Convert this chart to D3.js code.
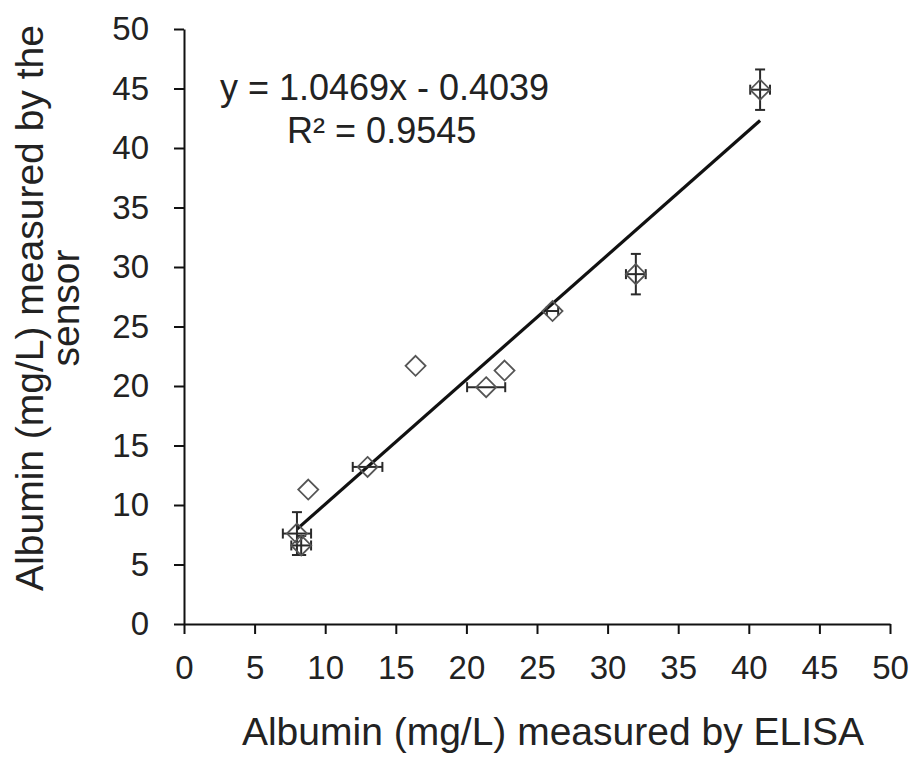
<!DOCTYPE html>
<html>
<head>
<meta charset="utf-8">
<script src="https://cdn.jsdelivr.net/npm/d3@7"></script>
<style>
  body { margin: 0; background: #fff; }
  text { font-family: "Liberation Sans", Arial, sans-serif; fill: #222; }
</style>
</head>
<body>
<div id="chart"></div>
<script>
// data: ELISA (x) vs sensor (y), with error bars
var elisa  = [8.0, 8.3, 8.8, 13.0, 16.4, 21.4, 22.7, 26.1, 32.0, 40.8];
var sensor = [7.6, 6.6, 11.3, 13.2, 21.7, 19.9, 21.3, 26.3, 29.4, 44.9];
var errX   = [1.0, 0.7, 0, 1.05, 0, 1.35, 0, 0.4, 0.7, 0.7];
var errY   = [1.8, 0.8, 0, 0, 0, 0, 0, 0, 1.7, 1.7];
var xTicks = [0, 5, 10, 15, 20, 25, 30, 35, 40, 45, 50];
var yTicks = [0, 5, 10, 15, 20, 25, 30, 35, 40, 45, 50];
var slope = 1.0469, intercept = -0.4039;
var eqLabel = "y = 1.0469x - 0.4039";
var r2Label = "R² = 0.9545";

var margin = {top: 29, right: 28, bottom: 135, left: 184},
    width = 918 - margin.left - margin.right,
    height = 759 - margin.top - margin.bottom;

var svg = d3.select("#chart")
  .append("svg")
    .attr("width", 918)
    .attr("height", 759)
  .append("g")
    .attr("transform", "translate(" + margin.left + "," + margin.top + ")");

var x = d3.scaleLinear().domain([0, 50]).range([0, width]);
var y = d3.scaleLinear().domain([0, 50]).range([height, 0]);

// X axis
var gx = svg.append("g")
  .attr("transform", "translate(0," + height + ")")
  .call(d3.axisBottom(x).tickValues(xTicks).tickSize(10).tickSizeOuter(0).tickPadding(22));
// Y axis
var gy = svg.append("g")
  .call(d3.axisLeft(y).tickValues(yTicks).tickSize(10).tickSizeOuter(0).tickPadding(25));

[gx, gy].forEach(function(g) {
  g.selectAll("path, line").attr("stroke", "#111").attr("stroke-width", 2);
  g.selectAll("text").style("font-size", "33px").attr("fill", "#222");
});

// trendline over the data range
var xr = d3.extent(elisa);
svg.append("line")
  .attr("x1", x(xr[0])).attr("y1", y(slope * xr[0] + intercept))
  .attr("x2", x(xr[1])).attr("y2", y(slope * xr[1] + intercept))
  .attr("stroke", "#111")
  .attr("stroke-width", 3.2);

var data = elisa.map(function(d, i) {
  return {x: d, y: sensor[i], ex: errX[i], ey: errY[i]};
});

// error bars
var eb = svg.append("g").attr("stroke", "#2a2a2a").attr("stroke-width", 2);
var cap = 5;
data.forEach(function(d) {
  if (d.ex > 0) {
    eb.append("line").attr("x1", x(d.x - d.ex)).attr("x2", x(d.x + d.ex))
      .attr("y1", y(d.y)).attr("y2", y(d.y));
    [d.x - d.ex, d.x + d.ex].forEach(function(v) {
      eb.append("line").attr("x1", x(v)).attr("x2", x(v))
        .attr("y1", y(d.y) - cap).attr("y2", y(d.y) + cap);
    });
  }
  if (d.ey > 0) {
    eb.append("line").attr("x1", x(d.x)).attr("x2", x(d.x))
      .attr("y1", y(d.y - d.ey)).attr("y2", y(d.y + d.ey));
    [d.y - d.ey, d.y + d.ey].forEach(function(v) {
      eb.append("line").attr("x1", x(d.x) - cap).attr("x2", x(d.x) + cap)
        .attr("y1", y(v)).attr("y2", y(v));
    });
  }
});

// diamond markers
svg.append("g")
  .selectAll("path")
  .data(data)
  .enter()
  .append("path")
    .attr("transform", function(d) { return "translate(" + x(d.x) + "," + y(d.y) + ")"; })
    .attr("d", "M0,-10L10,0L0,10L-10,0Z")
    .attr("fill", "none")
    .attr("stroke", "#555")
    .attr("stroke-width", 1.8);

// equation
svg.append("text")
  .attr("x", x(14.2)).attr("y", 71)
  .attr("text-anchor", "middle")
  .style("font-size", "36px")
  .text(eqLabel);
svg.append("text")
  .attr("x", x(14)).attr("y", 114)
  .attr("text-anchor", "middle")
  .style("font-size", "36px")
  .text(r2Label);

// axis titles
svg.append("text")
  .attr("x", width / 2 + 16)
  .attr("y", height + 121)
  .attr("text-anchor", "middle")
  .style("font-size", "39px")
  .text("Albumin (mg/L) measured by ELISA");

var yt = svg.append("text")
  .attr("transform", "translate(" + (-141) + "," + (308 - margin.top) + ") rotate(-90)")
  .attr("text-anchor", "middle")
  .style("font-size", "39px");
yt.append("tspan").attr("x", 0).attr("dy", 0).text("Albumin (mg/L) measured by the");
yt.append("tspan").attr("x", 0).attr("dy", 36).text("sensor");
</script>
</body>
</html>
